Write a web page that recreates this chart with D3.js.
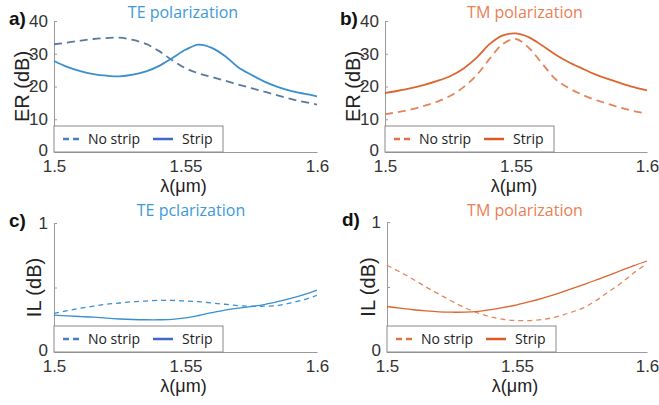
<!DOCTYPE html>
<html lang="en">
<head>
    <title>ER and IL vs wavelength</title>
    <script src="https://d3js.org/d3.v7.min.js" charset="utf-8"></script>
    <style type="text/css">
        body
        {
            margin: 0;
            background-color: white;
        }
        svg text
        {
            font-family: "Liberation Sans", Arial, sans-serif;
        }
        .title, .leg
        {
            font-family: "Open Sans", sans-serif !important;
        }
    </style>
</head>
<body>
    <div id="chart_div"></div>
    <script>
    "use strict";
    // wavelength grid (um) shared by all curves
    var wavelengths = [1.500, 1.505, 1.510, 1.515, 1.520, 1.525, 1.530, 1.535, 1.540, 1.545, 1.550,
                       1.555, 1.560, 1.565, 1.570, 1.575, 1.580, 1.585, 1.590, 1.595, 1.600];

    // a) TE extinction ratio (dB)
    var er_te_nostrip = [32.9, 33.4, 34.0, 34.5, 34.8, 34.9, 34.2, 33.0, 30.8, 28.0, 25.6,
                         24.0, 22.9, 21.8, 20.6, 19.5, 18.4, 17.3, 16.2, 15.3, 14.5];
    var er_te_strip = [27.8, 26.0, 24.7, 23.8, 23.3, 23.1, 23.6, 24.6, 26.3, 28.7, 31.2,
                       32.8, 31.8, 29.3, 25.9, 23.6, 21.5, 19.9, 18.7, 17.8, 17.0];
    // b) TM extinction ratio (dB)
    var er_tm_nostrip = [11.5, 12.2, 13.0, 14.1, 15.4, 17.2, 19.8, 23.5, 28.5, 33.0, 34.5,
                         31.7, 27.0, 22.3, 19.6, 17.6, 16.0, 14.7, 13.5, 12.5, 11.7];
    var er_tm_strip = [18.0, 18.7, 19.5, 20.5, 21.7, 23.2, 25.5, 28.8, 33.0, 35.6, 36.2,
                       35.0, 32.5, 29.8, 27.5, 25.6, 23.8, 22.3, 21.0, 19.8, 18.8];
    // c) TE insertion loss (dB)
    var il_te_nostrip = [0.30, 0.32, 0.34, 0.355, 0.37, 0.38, 0.39, 0.395, 0.40, 0.40, 0.395,
                         0.39, 0.38, 0.37, 0.36, 0.355, 0.355, 0.36, 0.38, 0.405, 0.44];
    var il_te_strip = [0.286, 0.28, 0.275, 0.27, 0.262, 0.256, 0.252, 0.25, 0.25, 0.253, 0.264,
                       0.283, 0.305, 0.325, 0.34, 0.352, 0.368, 0.39, 0.415, 0.445, 0.48];
    // d) TM insertion loss (dB)
    var il_tm_nostrip = [0.667, 0.615, 0.56, 0.50, 0.445, 0.39, 0.34, 0.30, 0.27, 0.25, 0.242,
                         0.242, 0.25, 0.27, 0.30, 0.335, 0.39, 0.46, 0.53, 0.61, 0.68];
    var il_tm_strip = [0.35, 0.337, 0.325, 0.316, 0.309, 0.306, 0.307, 0.313, 0.326, 0.343, 0.363,
                       0.388, 0.415, 0.445, 0.48, 0.515, 0.55, 0.588, 0.627, 0.665, 0.70];

    var x_ticks = [1.5, 1.55, 1.6];
    var er_ticks = [0, 10, 20, 30, 40];
    var il_ticks = [0, 0.5, 1];
    var il_tick_labels = ["0", "", "1"];
    var legend_names = ["No strip", "Strip"];

    var svg_width = 659;
    var svg_height = 405;
    var blue = "#3a8fcf";
    var orange = "#dc6530";

    var svg = d3.select("#chart_div")
        .append("svg")
        .attr("width", svg_width)
        .attr("height", svg_height);

    var panels = [
        {tag: "a)", title: "TE polarization", ylab: "ER (dB)", x0: 54, x1: 317, ytop: 21, ybot: 152,
         ydom: [0, 40], ticks: er_ticks, tlabels: null, dash: er_te_nostrip, solid: er_te_strip,
         color: blue, dashcolor: "#587a9c", titlecolor: "#3d9ad8", legdash: "#4a7cc4", legsolid: "#3f66c8",
         width: 1.8, dasharray: "8,5", titlex: 183, titley: 18, ylabx: 22},
        {tag: "b)", title: "TM polarization", ylab: "ER (dB)", x0: 385, x1: 647, ytop: 21, ybot: 152,
         ydom: [0, 40], ticks: er_ticks, tlabels: null, dash: er_tm_nostrip, solid: er_tm_strip,
         color: orange, dashcolor: "#e2865a", titlecolor: "#ea8055", legdash: "#e07444", legsolid: "#d85c24",
         width: 1.8, dasharray: "8,5", titlex: 525, titley: 18, ylabx: 353},
        {tag: "c)", title: "TE pclarization", ylab: "IL (dB)", x0: 54, x1: 317, ytop: 223, ybot: 352,
         ydom: [0, 1], ticks: il_ticks, tlabels: il_tick_labels, dash: il_te_nostrip, solid: il_te_strip,
         color: blue, dashcolor: "#3a8fd0", titlecolor: "#3d9ad8", legdash: "#4a7cc4", legsolid: "#3f66c8",
         width: 1.3, dasharray: "5,4", titlex: 191, titley: 216, ylabx: 34},
        {tag: "d)", title: "TM polarization", ylab: "IL (dB)", x0: 387, x1: 647, ytop: 222, ybot: 352,
         ydom: [0, 1], ticks: il_ticks, tlabels: il_tick_labels, dash: il_tm_nostrip, solid: il_tm_strip,
         color: orange, dashcolor: "#e2865a", titlecolor: "#ea8055", legdash: "#e07444", legsolid: "#d85c24",
         width: 1.3, dasharray: "5,4", titlex: 525, titley: 216, ylabx: 368}
    ];

    panels.forEach(function(p)
    {
        var x = d3.scaleLinear().domain([1.5, 1.6]).range([p.x0, p.x1]);
        var y = d3.scaleLinear().domain(p.ydom).range([p.ybot, p.ytop]);
        var g = svg.append("g");

        // axes (matlab style, ticks pointing in)
        var yaxis = d3.axisLeft(y).tickValues(p.ticks).tickSize(-3).tickPadding(6)
            .tickFormat(function(d, i) { return p.tlabels ? p.tlabels[i] : d; });
        var yg = g.append("g").attr("transform", "translate(" + p.x0 + ",0)").call(yaxis);
        // the "0" label sits just above the first x label
        yg.selectAll(".tick text").filter(function(d) { return d === 0; }).attr("dy", "0.2em");
        var xaxis = d3.axisBottom(x).tickValues(x_ticks).tickSize(0).tickPadding(8)
            .tickFormat(function(d) { return d; });
        g.append("g").attr("transform", "translate(0," + p.ybot + ")").call(xaxis);
        g.selectAll(".domain").attr("stroke", "#9a9a9a");
        g.selectAll(".tick line").attr("stroke", "#9a9a9a");
        g.selectAll(".tick text").attr("fill", "#333").style("font-size", "17px");

        // curves
        var line = d3.line()
            .x(function(d, i) { return x(wavelengths[i]); })
            .y(function(d) { return y(d); })
            .curve(d3.curveCatmullRom);
        g.append("path").attr("d", line(p.dash)).attr("fill", "none")
            .attr("stroke", p.dashcolor).attr("stroke-width", p.width)
            .attr("stroke-dasharray", p.dasharray);
        g.append("path").attr("d", line(p.solid)).attr("fill", "none")
            .attr("stroke", p.color).attr("stroke-width", p.width);

        // legend
        var lg = g.append("g").attr("transform", "translate(" + p.x0 + "," + (p.ybot - 26) + ")");
        lg.append("rect").attr("width", 169).attr("height", 26)
            .attr("fill", "white").attr("stroke", "#8a8a8a").attr("stroke-width", 1);
        lg.append("line").attr("x1", 9).attr("x2", 28).attr("y1", 13).attr("y2", 13)
            .attr("stroke", p.legdash).attr("stroke-width", 2.5).attr("stroke-dasharray", "6,4");
        lg.append("text").attr("class", "leg").attr("x", 34).attr("y", 18)
            .style("font-size", "14px").attr("fill", "#222").text(legend_names[0]);
        lg.append("line").attr("x1", 99).attr("x2", 119).attr("y1", 13).attr("y2", 13)
            .attr("stroke", p.legsolid).attr("stroke-width", 2.5);
        lg.append("text").attr("class", "leg").attr("x", 128).attr("y", 18)
            .style("font-size", "14px").attr("fill", "#222").text(legend_names[1]);

        // labels
        g.append("text").attr("class", "title").attr("x", p.titlex).attr("y", p.titley)
            .attr("text-anchor", "middle").style("font-size", "16px")
            .attr("fill", p.titlecolor).text(p.title);
        g.append("text").attr("x", (p.x0 + p.x1) / 2 - 2).attr("y", p.ybot + 40)
            .attr("text-anchor", "middle").style("font-size", "18px").attr("fill", "#222")
            .text("\u03bb(\u03bcm)");
        g.append("text")
            .attr("transform", "translate(" + p.ylabx + "," + ((p.ytop + p.ybot) / 2) + ") rotate(-90)")
            .attr("text-anchor", "middle").attr("dy", "0.35em").style("font-size", "20px").attr("fill", "#222")
            .text(p.ylab);
        g.append("text").attr("x", p.x0 - 45).attr("y", p.ytop + 4)
            .style("font-size", "19px").style("font-weight", "bold").attr("fill", "#111")
            .text(p.tag);
    });
    </script>
</body>
</html>
